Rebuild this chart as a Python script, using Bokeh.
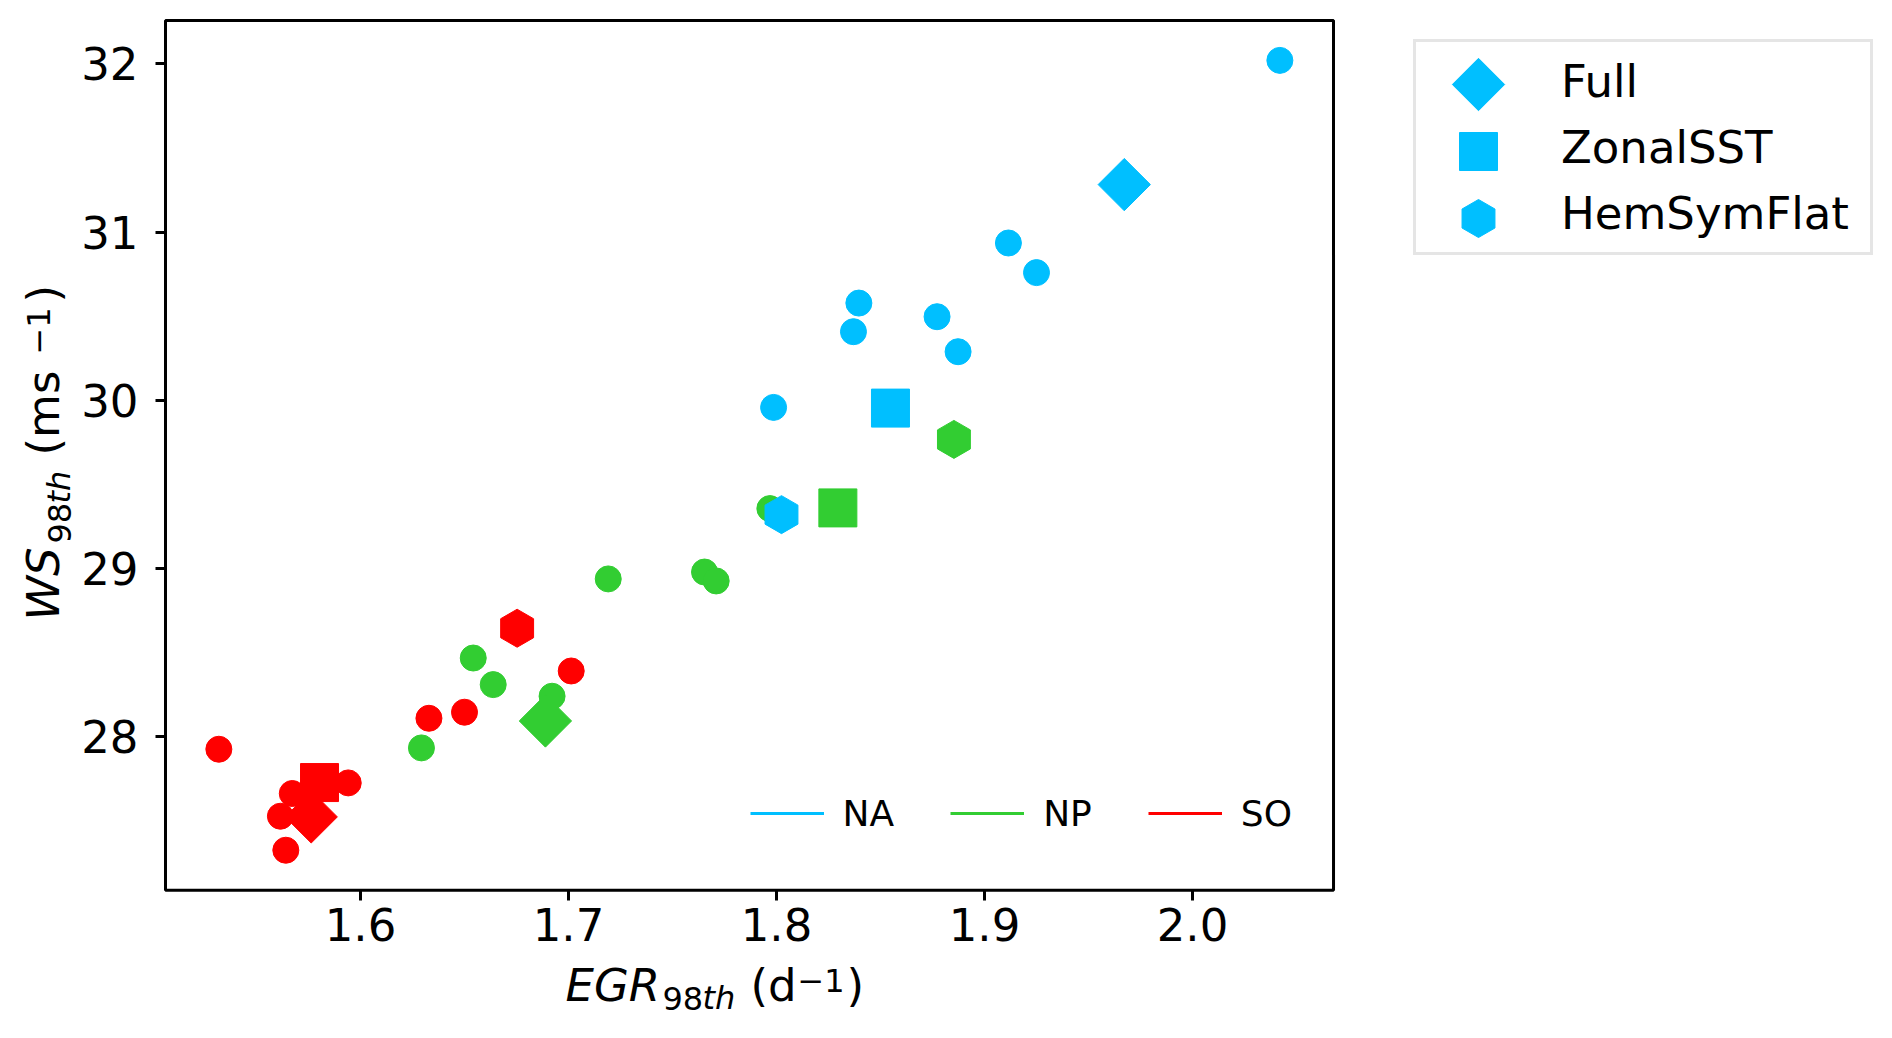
import math
from bokeh.plotting import figure
from bokeh.models import Label, Legend, LegendItem, Range1d, FixedTicker, BoxAnnotation
from bokeh.embed import file_html
from bokeh.resources import INLINE

# ---------------- data ----------------
regions = ["NA", "NP", "SO"]
region_colors = ["#00BFFF", "#32CD32", "#FF0000"]

# ensemble members (circles)
na_x = [2.042, 1.9115, 1.925, 1.8396, 1.837, 1.8772, 1.8873, 1.7986]
na_y = [32.02, 30.935, 30.759, 30.578, 30.408, 30.497, 30.289, 29.958]
np_x = [1.7968, 1.7654, 1.771, 1.7191, 1.6542, 1.6638, 1.6921, 1.6293]
np_y = [29.357, 28.980, 28.927, 28.939, 28.469, 28.311, 28.242, 27.935]
so_x = [1.5319, 1.5941, 1.5672, 1.5615, 1.5641, 1.6329, 1.650, 1.7013]
so_y = [27.927, 27.727, 27.664, 27.529, 27.327, 28.111, 28.147, 28.392]

# experiments, ordered NA, NP, SO
experiments = ["Full", "ZonalSST", "HemSymFlat"]
full_x = [1.9672, 1.6889, 1.5763]
full_y = [31.282, 28.095, 27.525]
zonal_x = [1.8548, 1.8295, 1.5803]
zonal_y = [29.954, 29.361, 27.729]
hem_x = [1.8024, 1.8853, 1.6753]
hem_y = [29.321, 29.768, 28.646]

x_ticks = [1.6, 1.7, 1.8, 1.9, 2.0]
x_tick_labels = ["1.6", "1.7", "1.8", "1.9", "2.0"]
y_ticks = [28, 29, 30, 31, 32]
y_tick_labels = ["28", "29", "30", "31", "32"]

# visible axes box (data limits)
box_x = [1.50625, 2.0678]
box_y = [27.089, 32.257]

FONT = "DejaVu Sans"
W, H = 1876, 1022
PX_X = 2080.0     # pixels per x unit
PX_Y = 168.3      # pixels per y unit
x_lo = box_x[0] - 165 / PX_X
y_hi = box_y[1] + 20 / PX_Y

def dx(px):
    return x_lo + px / PX_X

def dy(py):
    return y_hi - py / PX_Y

p = figure(width=W, height=H, output_backend="svg", toolbar_location=None,
           x_range=Range1d(x_lo, x_lo + W / PX_X), y_range=Range1d(y_hi - H / PX_Y, y_hi),
           min_border=0, min_border_left=0, min_border_right=0, min_border_top=0, min_border_bottom=0)
p.background_fill_color = "white"
p.border_fill_color = "white"
p.grid.visible = False
p.outline_line_color = None

p.xaxis[0].fixed_location = box_y[0]
p.yaxis[0].fixed_location = box_x[0]
for ax, ticks, labels in ((p.xaxis[0], x_ticks, x_tick_labels), (p.yaxis[0], y_ticks, y_tick_labels)):
    ax.ticker = FixedTicker(ticks=ticks)
    ax.major_label_overrides = {t: l for t, l in zip(ticks, labels)}
    ax.major_label_text_font = FONT
    ax.major_label_text_font_size = "45px"
    ax.major_label_text_color = "black"
    ax.major_tick_out = 10
    ax.major_tick_in = 0
    ax.major_tick_line_width = 3
    ax.major_tick_line_color = "black"
    ax.minor_tick_line_color = None
    ax.axis_line_color = None
p.yaxis[0].major_label_standoff = 17
p.xaxis[0].major_label_standoff = 8

# axes box
p.add_layout(BoxAnnotation(left=box_x[0], right=box_x[1], bottom=box_y[0], top=box_y[1],
                           fill_alpha=0, line_color="black", line_alpha=1.0, line_width=3))

# circles first
member_x = [na_x, np_x, so_x]
member_y = [na_y, np_y, so_y]
for xs, ys, c in zip(member_x, member_y, region_colors):
    p.scatter(xs, ys, marker="circle", size=26, fill_color=c, line_color=c, line_width=1)

specs = [(full_x, full_y, "square", 37, math.pi / 4),
         (zonal_x, zonal_y, "square", 38, 0.0),
         (hem_x, hem_y, "hex", 38, math.pi / 2)]
for xs, ys, mk, sz, ang in specs:
    for i, c in enumerate(region_colors):
        p.scatter([xs[i]], [ys[i]], marker=mk, size=sz, angle=ang,
                  fill_color=c, line_color=c, line_width=1)

# ---- region legend (hidden line proxies) ----
line_renderers = []
for xs, ys, c in zip(member_x, member_y, region_colors):
    lr = p.line(x=xs, y=ys, line_color=c, line_width=3, visible=False)
    line_renderers.append(lr)

leg_regions = Legend(items=[LegendItem(label=n, renderers=[r]) for n, r in zip(regions, line_renderers)],
                     orientation="horizontal", location=(749.6, H - 834),
                     glyph_width=74, glyph_height=42, label_height=42, label_standoff=19,
                     spacing=56, padding=0, margin=0,
                     label_text_font=FONT, label_text_font_size="36px", label_text_color="black",
                     inactive_fill_alpha=0,
                     border_line_color=None, background_fill_alpha=0)
p.add_layout(leg_regions, "center")

# ---- experiment legend ----
# transparent proxies carry the legend entries; the keys are drawn at the key slots
proxies = []
for xs, ys in ((full_x, full_y), (zonal_x, zonal_y), (hem_x, hem_y)):
    proxies.append(p.scatter(xs[:1], ys[:1], marker="circle", size=1,
                             fill_alpha=0, line_alpha=0))

LEG_LEFT, LEG_TOP, LEG_PAD, ROW_H, KEY_W = 1413, 45, 6, 66, 118
leg_exp = Legend(items=[LegendItem(label=n, renderers=[r]) for n, r in zip(experiments, proxies)],
                 location=(LEG_LEFT, H - (LEG_TOP + 2 * LEG_PAD + 3 * ROW_H)),
                 glyph_width=KEY_W, glyph_height=ROW_H, label_height=ROW_H, label_standoff=21,
                 label_width=303, spacing=0, padding=LEG_PAD, margin=0,
                 label_text_font=FONT, label_text_font_size="45px", label_text_color="black",
                 border_line_color="#cccccc", border_line_width=3,
                 background_fill_alpha=0)
p.add_layout(leg_exp, "center")

key_cx = LEG_LEFT + LEG_PAD + KEY_W / 2
for k, (xs, ys, mk, sz, ang) in enumerate(specs):
    cy = 84 + 67 * k
    p.scatter([dx(key_cx)], [dy(cy)], marker=mk, size=sz, angle=ang,
              fill_color=region_colors[0], line_color=region_colors[0], line_width=1)

# ---- axis labels, piece by piece (pixel positions converted to data) ----
def piece(text, px, py, size, italic=False, angle=0.0):
    fs = float(size[:-2])
    shift = 0.44 * fs  # correction for the alphabetic baseline placement
    if angle == 0.0:
        py = py - shift
    else:
        px = px - shift
    p.add_layout(Label(x=dx(px), y=dy(py), text=text,
                       text_font=FONT, text_font_size=size,
                       text_font_style="italic" if italic else "normal",
                       text_baseline="alphabetic", text_align="left",
                       angle=angle, text_color="black"))

# x label: EGR_98th (d^-1)
piece("EGR", 565, 1005, "45px", italic=True)
piece("98", 662, 1012, "32px")
piece("th", 702, 1012, "32px", italic=True)
piece("(d", 750, 1005, "45px")
piece("\u22121", 797, 994, "32px")
piece(")", 846, 1005, "45px")

# y label: WS_98th (ms ^-1), rotated
A = math.pi / 2
piece("WS", 63, 620, "45px", italic=True, angle=A)
piece("98", 73, 543, "32px", angle=A)
piece("th", 73, 503, "32px", italic=True, angle=A)
piece("(ms", 63, 455, "45px", angle=A)
piece("\u22121", 52, 354, "32px", angle=A)
piece(")", 63, 302, "45px", angle=A)

open("out.html", "w").write(file_html(p, INLINE))
